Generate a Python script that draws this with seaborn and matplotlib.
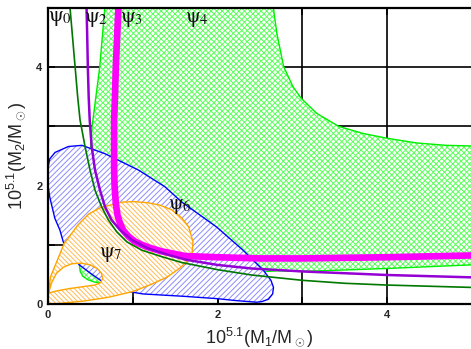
import numpy as np
import pandas as pd
import matplotlib
matplotlib.use("Agg")
import matplotlib.pyplot as plt
import seaborn as sns
from matplotlib.path import Path
from matplotlib.patches import PathPatch

# ---------------- data ----------------
psi0_x = [0.26, 0.29, 0.32, 0.35, 0.378, 0.437, 0.496, 0.555, 0.633, 0.712, 0.81, 0.93, 1.106, 1.34, 1.58, 2.00, 2.40, 3.00, 3.50, 4.00, 5.00]
psi0_y = [5.00, 4.50, 4.00, 3.50, 3.11, 2.66, 2.26, 1.92, 1.64, 1.42, 1.22, 1.05, 0.91, 0.80, 0.70, 0.58, 0.49, 0.40, 0.35, 0.32, 0.28]

psi2_x = [0.455, 0.463, 0.470, 0.480, 0.492, 0.515, 0.555, 0.614, 0.673, 0.75, 0.85, 0.99, 1.18, 1.42, 1.62, 2.00, 2.40, 3.00, 4.00, 5.00]
psi2_y = [5.00, 4.50, 4.00, 3.50, 3.11, 2.66, 2.26, 1.92, 1.64, 1.42, 1.25, 1.08, 0.94, 0.83, 0.75, 0.66, 0.60, 0.55, 0.49, 0.45]

psi3_x = [0.83, 0.815, 0.80, 0.79, 0.78, 0.78, 0.78, 0.785, 0.80, 0.82, 0.85, 0.89, 0.95, 1.02, 1.106, 1.20, 1.34, 1.62, 2.00, 2.50, 3.00, 4.00, 5.00]
psi3_y = [5.00, 4.50, 4.00, 3.50, 3.11, 2.60, 2.26, 2.00, 1.70, 1.50, 1.36, 1.24, 1.14, 1.06, 1.00, 0.95, 0.89, 0.81, 0.79, 0.77, 0.77, 0.79, 0.82]

# psi4 region (green)
green_x = [0.69, 0.67, 0.61, 0.52, 0.51, 0.50, 0.45, 0.40, 0.37, 0.38, 0.41, 0.47, 0.55, 0.62, 1.00, 2.00, 2.70, 3.00, 4.00, 5.30,
           5.30, 4.98, 4.70, 4.35, 4.00, 3.72, 3.43, 3.17, 2.99, 2.89, 2.78, 2.70, 2.66, 2.63]
green_y = [5.30, 5.00, 4.00, 3.00, 2.80, 2.60, 1.80, 1.00, 0.66, 0.55, 0.47, 0.41, 0.37, 0.36, 0.40, 0.50, 0.56, 0.55, 0.60, 0.68,
           2.65, 2.67, 2.68, 2.72, 2.80, 2.88, 3.00, 3.22, 3.47, 3.67, 4.01, 4.57, 4.99, 5.30]

# psi6 region (blue)
blue_x = [0.00, 0.02, 0.083, 0.24, 0.40, 0.67, 0.90, 1.07, 1.38, 1.58, 1.99, 2.30, 2.54, 2.63, 2.66, 2.65, 2.60, 2.52, 2.46,
          2.20, 2.00, 1.60, 1.12, 0.95, 0.78, 0.64, 0.50, 0.37, 0.26, 0.18, 0.14, 0.08, 0.02, 0.00]
blue_y = [2.30, 2.45, 2.56, 2.66, 2.68, 2.54, 2.38, 2.26, 1.98, 1.72, 1.30, 0.91, 0.57, 0.40, 0.28, 0.17, 0.08, 0.04, 0.03,
          0.06, 0.09, 0.13, 0.17, 0.21, 0.28, 0.38, 0.52, 0.66, 0.86, 1.05, 1.25, 1.45, 1.81, 2.00]

# psi7 region (orange), outer boundary and inner hole
orange_x = [0.00, 0.14, 0.42, 0.70, 1.00, 1.20, 1.40, 1.55, 1.65, 1.70, 1.71, 1.66, 1.58, 1.46, 1.32, 1.18, 1.01, 0.87, 0.62, 0.48, 0.35, 0.19, 0.11, 0.03, 0.01, 0.00]
orange_y = [0.00, 0.01, 0.05, 0.11, 0.21, 0.32, 0.45, 0.60, 0.73, 0.86, 1.05, 1.30, 1.45, 1.59, 1.67, 1.71, 1.73, 1.72, 1.63, 1.52, 1.33, 1.02, 0.74, 0.46, 0.24, 0.05]
hole_x = [0.01, 0.04, 0.10, 0.18, 0.28, 0.39, 0.50, 0.58, 0.63, 0.645, 0.62, 0.55, 0.40, 0.25, 0.10, 0.02]
hole_y = [0.20, 0.35, 0.52, 0.62, 0.68, 0.69, 0.66, 0.60, 0.52, 0.43, 0.36, 0.32, 0.29, 0.26, 0.22, 0.19]

labels = [r"$\mathrm{\psi}_0$", r"$\mathrm{\psi}_2$", r"$\mathrm{\psi}_3$", r"$\mathrm{\psi}_4$", r"$\mathrm{\psi}_6$", r"$\mathrm{\psi}_7$"]
label_x = [0.14, 0.56, 0.98, 1.76, 1.55, 0.74]
label_y = [4.82, 4.81, 4.81, 4.81, 1.65, 0.83]

grid_ticks = [0, 1, 2, 3, 4]
tick_labels = ["0", "", "2", "", "4"]

# ---------------- style ----------------
sns.set_theme(style="white")
plt.rcParams.update({
    "font.family": ["Liberation Sans", "DejaVu Sans"],
    "mathtext.fontset": "custom",
    "mathtext.rm": "Liberation Sans",
    "mathtext.it": "Liberation Sans:italic",
    "mathtext.bf": "Liberation Sans:bold",
    "hatch.linewidth": 0.7,
})

fig = plt.figure(figsize=(4.71, 3.49), dpi=100)
ax = fig.add_axes([48 / 471, 45 / 349, 423 / 471, 296 / 349])
ax.set_xlim(0, 4.99)
ax.set_ylim(0, 5.0)

# manual grid below everything
ax.vlines(grid_ticks[1:], 0, 5, colors="black", lw=1.2, zorder=0.5)
ax.hlines(grid_ticks[1:], 0, 5, colors="black", lw=1.2, zorder=0.5)


def ring(xs, ys):
    v = np.column_stack([xs, ys]).astype(float)
    area = 0.5 * np.sum(v[:, 0] * np.roll(v[:, 1], -1) - np.roll(v[:, 0], -1) * v[:, 1])
    return v, area


def region(rings, hatch, hcolor, ecolor, z):
    verts, codes = [], []
    sign0 = None
    for i, (xs, ys) in enumerate(rings):
        v, a = ring(xs, ys)
        if i == 0:
            sign0 = np.sign(a)
        elif np.sign(a) == sign0:
            v = v[::-1]
        verts.extend(v.tolist() + [v[0].tolist()])
        codes.extend([Path.MOVETO] + [Path.LINETO] * (len(v) - 1) + [Path.CLOSEPOLY])
    path = Path(verts, codes)
    ax.add_patch(PathPatch(path, facecolor="white", edgecolor=hcolor, hatch=hatch, lw=0, zorder=z))
    ax.add_patch(PathPatch(path, facecolor="none", edgecolor=ecolor, lw=1.0, zorder=z + 0.01))


region([(green_x, green_y)], "xxxxxx", "#5cff5c", "#00ee00", 1.0)
region([(blue_x, blue_y)], "//////", "#8c8cff", "#0000ff", 1.1)
region([(orange_x, orange_y), (hole_x, hole_y)], "\\" * 7, "#ffbb55", "#ffa500", 1.2)

lines = pd.concat([
    pd.DataFrame({"x": psi0_x, "y": psi0_y, "curve": "psi0"}),
    pd.DataFrame({"x": psi2_x, "y": psi2_y, "curve": "psi2"}),
    pd.DataFrame({"x": psi3_x, "y": psi3_y, "curve": "psi3"}),
])
sns.lineplot(data=lines[lines.curve == "psi3"], x="x", y="y", sort=False, estimator=None,
             color="#ff00ff", lw=4.8, ax=ax, zorder=3, legend=False)
sns.lineplot(data=lines[lines.curve == "psi2"], x="x", y="y", sort=False, estimator=None,
             color="#9400d3", lw=1.8, ax=ax, zorder=3.1, legend=False)
sns.lineplot(data=lines[lines.curve == "psi0"], x="x", y="y", sort=False, estimator=None,
             color="#007800", lw=1.2, ax=ax, zorder=3.2, legend=False)

for t, x, y in zip(labels, label_x, label_y):
    ax.text(x, y, t, ha="center", va="center", fontsize=15, color="#111111",
            math_fontfamily="stix", zorder=5)

ax.set_xticks(grid_ticks)
ax.set_xticklabels(tick_labels)
ax.set_yticks(grid_ticks)
ax.set_yticklabels(tick_labels)
ax.tick_params(axis="both", direction="in", length=5, width=1.2, color="black",
               labelsize=8, pad=4, top=True, right=False, bottom=True, left=True)
for lab in ax.get_xticklabels() + ax.get_yticklabels():
    lab.set_fontweight("bold")

for side in ["left", "bottom", "top"]:
    ax.spines[side].set_linewidth(1.6)
    ax.spines[side].set_color("black")
    ax.spines[side].set_zorder(6)
ax.spines["right"].set_visible(False)

ax.set_xlabel(r"$\mathrm{10^{5.1}(M_1/M_\odot)}$", fontsize=13, labelpad=4)
ax.set_ylabel(r"$\mathrm{10^{5.1}(M_2/M_\odot)}$", fontsize=13, labelpad=6)

fig.savefig("out.png", dpi=100)
